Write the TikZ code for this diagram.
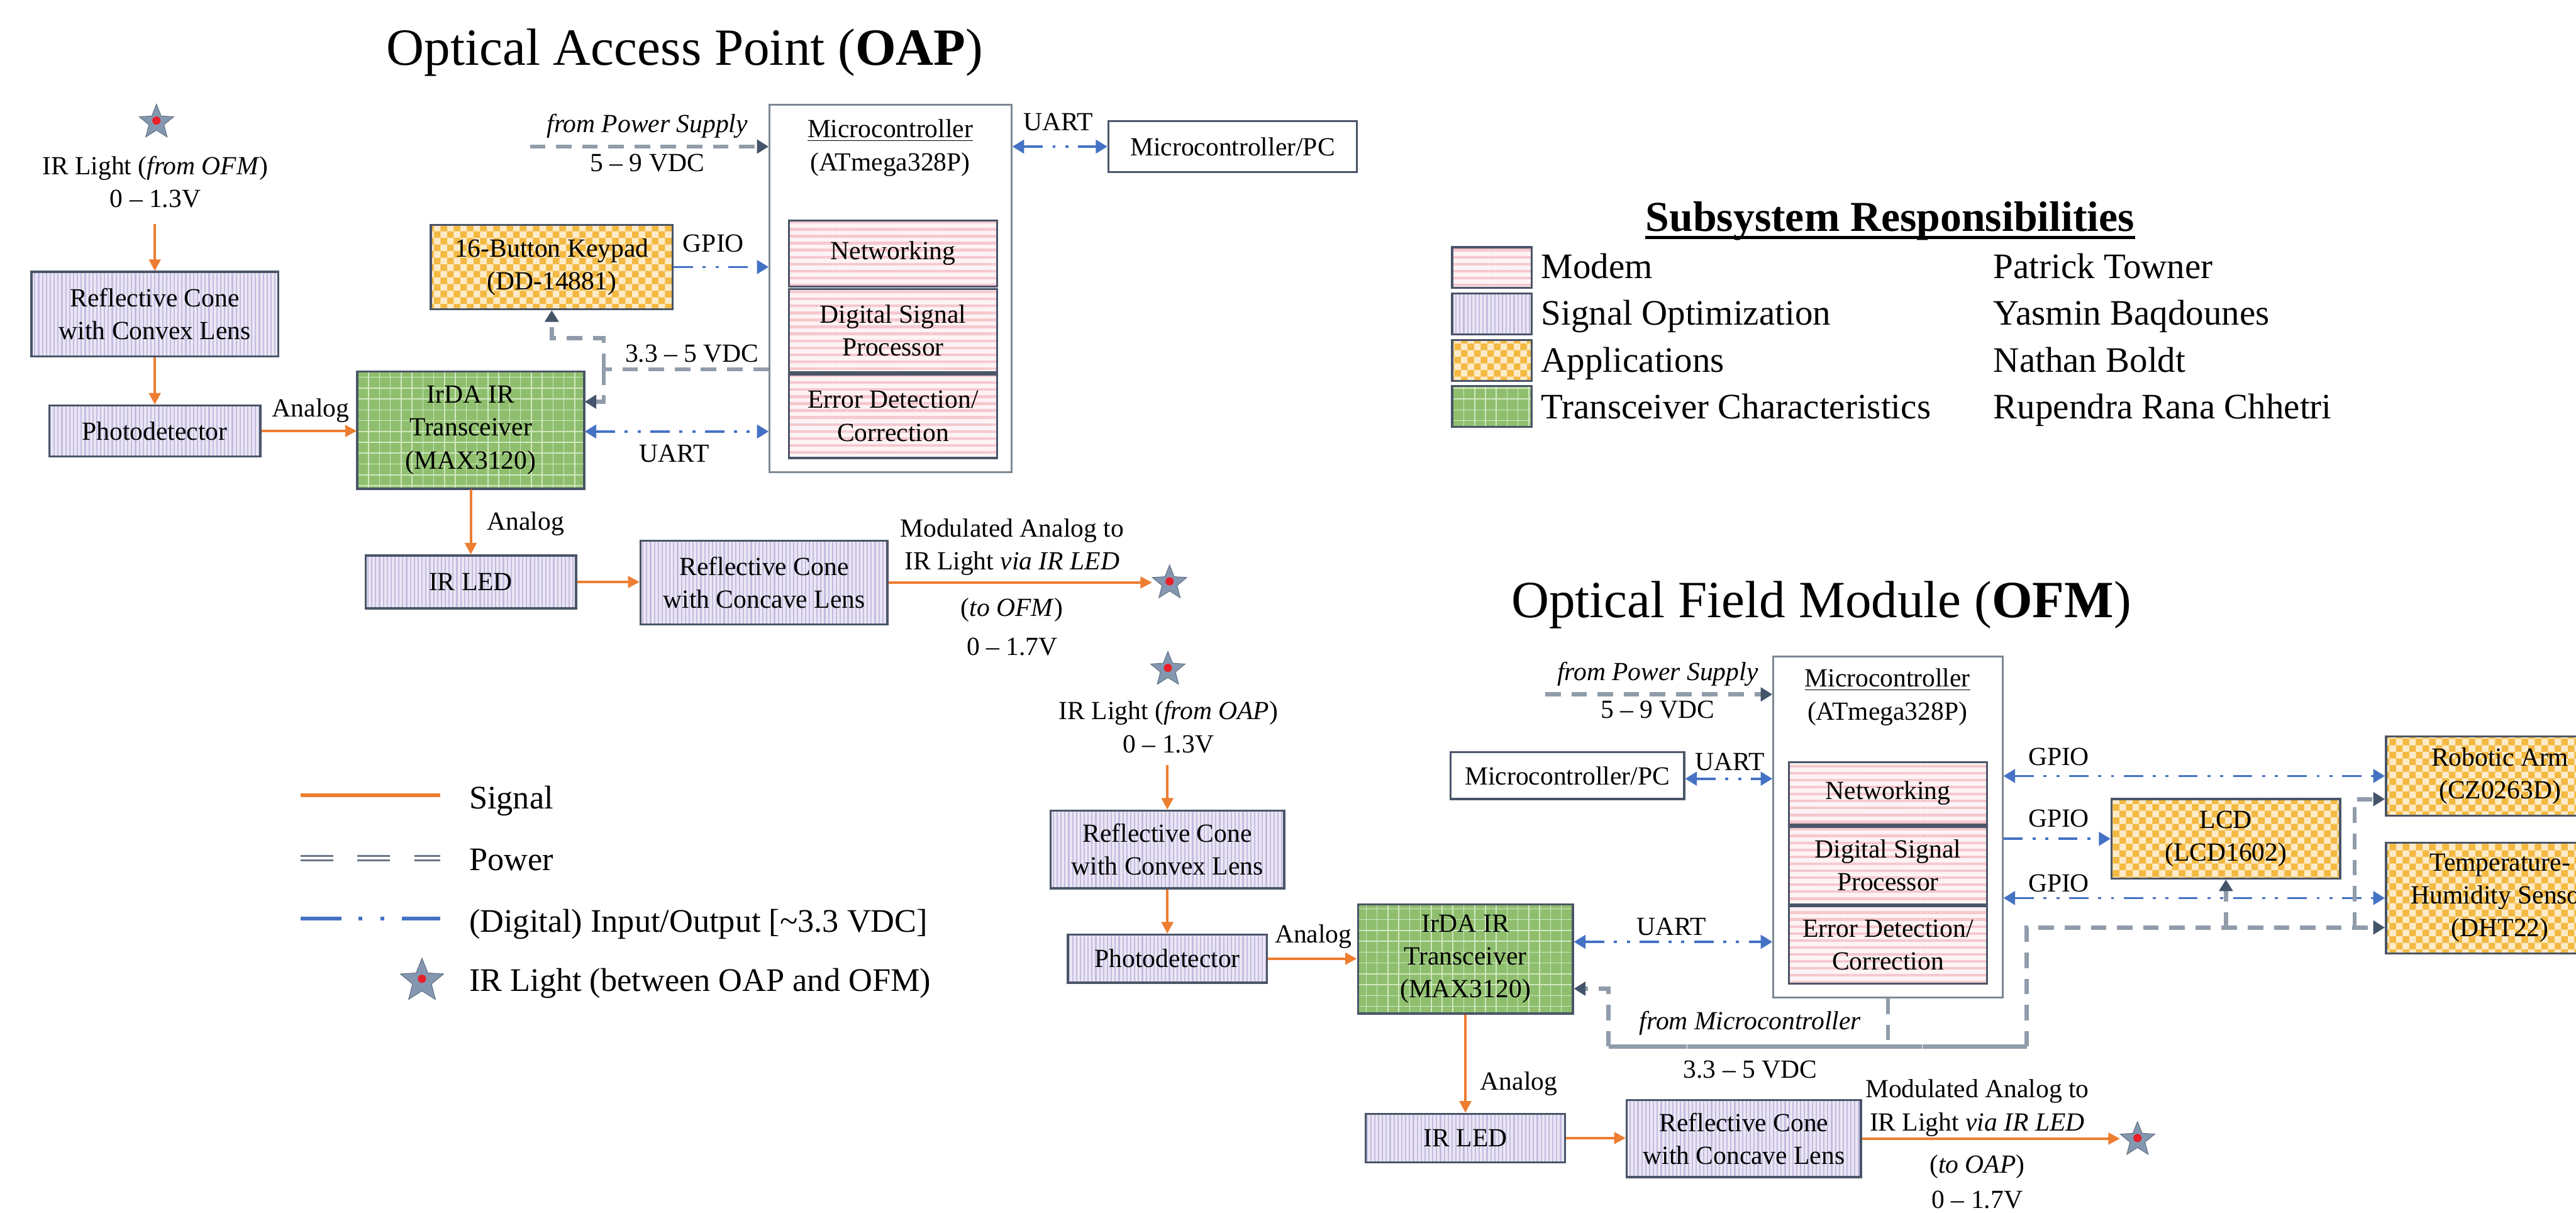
\documentclass[tikz,border=0pt]{standalone}
\usepackage{fontspec}
\setmainfont{Liberation Serif}
\usetikzlibrary{arrows.meta,positioning,shapes.geometric,patterns,patterns.meta}

\definecolor{edge}{HTML}{4A5568}
\definecolor{mcuedge}{HTML}{7D8894}
\definecolor{sigc}{HTML}{ED7D31}
\definecolor{dioc}{HTML}{4472C4}
\definecolor{pwrc}{HTML}{909CAA}
\definecolor{pwrhead}{HTML}{44546A}
\definecolor{lavbg}{HTML}{EAE6F4}
\definecolor{lavln}{HTML}{C4BBE0}
\definecolor{pinkbg}{HTML}{FDF3F4}
\definecolor{pinkln}{HTML}{F5C8CE}
\definecolor{chkbg}{HTML}{FDEBC8}
\definecolor{chkfg}{HTML}{F4B942}
\definecolor{grnbg}{HTML}{8FBF6E}
\definecolor{grnln}{HTML}{D2E8C3}
\definecolor{starc}{HTML}{8497B0}
\definecolor{starred}{HTML}{E8202A}

\newcommand{\blockfont}{\fontsize{13.5}{17}\selectfont}
\newcommand{\titlefont}{\fontsize{27}{32}\selectfont}
\newcommand{\keyfont}{\fontsize{17}{20}\selectfont}
\newcommand{\headfont}{\fontsize{22}{26}\selectfont}
\newcommand{\rolefont}{\fontsize{18.5}{22}\selectfont}

\pgfdeclarepatternformonly{checks}{\pgfpointorigin}{\pgfqpoint{6.8pt}{6.8pt}}{\pgfqpoint{6.8pt}{6.8pt}}{%
  \pgfpathrectangle{\pgfpointorigin}{\pgfqpoint{3.4pt}{3.4pt}}%
  \pgfpathrectangle{\pgfqpoint{3.4pt}{3.4pt}}{\pgfqpoint{3.4pt}{3.4pt}}%
  \pgfusepath{fill}%
}

\begin{document}
\begin{tikzpicture}[
  box/.style={draw=edge, line width=1.1pt, align=center, inner sep=2pt, font=\blockfont},
  modem/.style={box, preaction={fill=pinkbg}, pattern={Lines[angle=0, distance=3.6pt, line width=1.4pt]}, pattern color=pinkln},
  sigopt/.style={box, preaction={fill=lavbg}, pattern={Lines[angle=90, distance=2pt, line width=0.7pt]}, pattern color=lavln},
  apps/.style={box, preaction={fill=chkbg}, pattern=checks, pattern color=chkfg},
  trx/.style={box, preaction={fill=grnbg}, pattern={Hatch[angle=0, distance=5.6pt, line width=0.5pt]}, pattern color=grnln},
  plain/.style={box, fill=white},
  mcu/.style={draw=mcuedge, line width=1pt, fill=white},
  lbl/.style={align=center, inner sep=1pt, font=\blockfont},
  sig/.style={draw=sigc, line width=1.3pt, -{Triangle[length=6pt, width=6pt]}},
  dio/.style={draw=dioc, line width=1.2pt, dash pattern=on 10pt off 5pt on 1.6pt off 5pt on 1.6pt off 5pt,
    -{Triangle[length=6pt, width=7pt]}},
  dio2/.style={dio, {Triangle[length=6pt, width=7pt]}-{Triangle[length=6pt, width=7pt]}},
  pwr/.style={draw=pwrc, line width=2.2pt, dash pattern=on 8pt off 5.5pt},
  pwrtip/.style={-{Triangle[length=6pt, width=7pt, color=pwrhead]}},
  irstar/.style={star, star points=5, star point ratio=2.3, inner sep=0pt, minimum size=0.66cm,
    fill=starc, draw=starc!70!black, line width=0.3pt,
    path picture={\fill[starred] (path picture bounding box.center) circle (0.075cm);}}
]
  \clip (0,0) rectangle (46.76,-22);

  \node[font=\titlefont] (oapTitle) at (12.43,-0.95) {Optical Access Point (\textbf{OAP})};
  \node[irstar] (oapStar) at (2.84,-2.22) {};
  \node[lbl] (oapIn) at (2.82,-3.30) {IR Light (\textit{from OFM})\\0 -- 1.3V};
  \coordinate (oapInTop) at (2.81,-4.06);
  \node[sigopt, minimum width=4.48cm, minimum height=1.54cm] (oapCvx) at (2.81,-5.70) {Reflective Cone\\with Convex Lens};
  \node[sigopt, minimum width=3.83cm, minimum height=0.92cm] (oapPd) at (2.81,-7.82) {Photodetector};
  \node[trx, minimum width=4.12cm, minimum height=2.13cm] (oapIrda) at (8.545,-7.805) {IrDA IR\\Transceiver\\(MAX3120)};
  \node[sigopt, minimum width=3.82cm, minimum height=0.96cm] (oapLed) at (8.545,-10.56) {IR LED};
  \node[sigopt, minimum width=4.48cm, minimum height=1.52cm] (oapCcv) at (13.87,-10.57) {Reflective Cone\\with Concave Lens};
  \node[irstar] (oapOut) at (21.23,-10.58) {};
  \node[lbl] (oapOutA) at (18.37,-9.925) {Modulated Analog to\\IR Light \textit{via IR LED}};
  \node[lbl] (oapOutB) at (18.37,-11.375) {(\textit{to OFM})\\[3pt]0 -- 1.7V};
  \node[apps, minimum width=4.39cm, minimum height=1.53cm] (oapKey) at (10.015,-4.845) {16-Button Keypad\\(DD-14881)};
  \node[mcu, minimum width=4.39cm, minimum height=6.67cm] (oapMcu) at (16.165,-5.235) {};
  \node[lbl] (oapMcuTxt) at (16.16,-2.685) {\underline{Microcontroller}\\(ATmega328P)};
  \node[modem, minimum width=3.78cm, minimum height=1.20cm] (oapNet) at (16.21,-4.60) {Networking};
  \node[modem, minimum width=3.78cm, minimum height=1.51cm, below=0pt of oapNet] (oapDsp) {Digital Signal\\Processor};
  \node[modem, minimum width=3.78cm, minimum height=1.52cm, below=0pt of oapDsp] (oapEdc) {Error Detection/\\Correction};
  \node[plain, minimum width=4.51cm, minimum height=0.92cm] (oapPc) at (22.375,-2.66) {Microcontroller/PC};

  \node[lbl] (oapPsTxt) at (11.75,-2.29) {\textit{from Power Supply}};
  \node[lbl] (oapPsV) at (11.75,-2.96) {5 -- 9 VDC};
  \node[lbl] (oapGpio) at (12.95,-4.42) {GPIO};
  \node[lbl] (oapUartPc) at (19.21,-2.21) {UART};
  \node[lbl] (oapUart) at (12.24,-8.23) {UART};
  \node[lbl] (oapLowV) at (12.56,-6.42) {3.3 -- 5 VDC};
  \node[lbl] (oapAn1) at (5.64,-7.45) {Analog};
  \node[lbl] (oapAn2) at (9.54,-9.51) {Analog};

  \coordinate (oapPs) at (9.62,-2.66);
  \coordinate (oapPj) at (10.96,-6.70);

  \draw[sig] (oapInTop) -- (oapCvx.north);
  \draw[sig] (oapCvx.south) -- (oapPd.north);
  \draw[sig] (oapPd.east) -- (oapPd.east -| oapIrda.west);
  \draw[sig] (oapIrda.south) -- (oapLed.north);
  \draw[sig] (oapLed.east) -- (oapLed.east -| oapCcv.west);
  \draw[sig, shorten >=0.12cm] (oapCcv.east) -- (oapCcv.east -| oapOut.west);
  \draw[dio] (oapKey.east) -- (oapKey.east -| oapMcu.west);
  \draw[dio2] (oapMcu.east |- oapPc) -- (oapPc.west);
  \draw[dio2] (oapIrda.east |- 0,-7.83) -- (oapMcu.west |- 0,-7.83);
  \draw[pwr, pwrtip] (oapPs) -- (oapMcu.west |- oapPs);
  \draw[pwr] (oapMcu.west |- oapPj) -- (oapPj);
  \draw[pwr, pwrtip] (oapPj) |- (oapKey.south |- 0,-6.14) -- (oapKey.south);
  \draw[pwr, pwrtip] (oapPj) |- (oapIrda.east |- 0,-7.29);

  \node[font=\titlefont] (ofmTitle) at (33.06,-10.98) {Optical Field Module (\textbf{OFM})};
  \node[irstar] (ofmStar) at (21.20,-12.15) {};
  \node[lbl] (ofmIn) at (21.21,-13.195) {IR Light (\textit{from OAP})\\0 -- 1.3V};
  \coordinate (ofmInTop) at (21.19,-13.88);
  \node[sigopt, minimum width=4.24cm, minimum height=1.41cm] (ofmCvx) at (21.19,-15.415) {Reflective Cone\\with Convex Lens};
  \node[sigopt, minimum width=3.61cm, minimum height=0.87cm] (ofmPd) at (21.19,-17.395) {Photodetector};
  \node[trx, minimum width=3.90cm, minimum height=1.98cm] (ofmIrda) at (26.60,-17.40) {IrDA IR\\Transceiver\\(MAX3120)};
  \node[sigopt, minimum width=3.62cm, minimum height=0.88cm] (ofmLed) at (26.60,-20.65) {IR LED};
  \node[sigopt, minimum width=4.25cm, minimum height=1.40cm] (ofmCcv) at (31.655,-20.66) {Reflective Cone\\with Concave Lens};
  \node[irstar] (ofmOut) at (38.80,-20.68) {};
  \node[lbl] (ofmOutA) at (35.89,-20.105) {Modulated Analog to\\IR Light \textit{via IR LED}};
  \node[lbl] (ofmOutB) at (35.89,-21.445) {(\textit{to OAP})\\[1pt]0 -- 1.7V};
  \node[mcu, minimum width=4.16cm, minimum height=6.19cm] (ofmMcu) at (34.27,-15.005) {};
  \node[lbl] (ofmMcuTxt) at (34.26,-12.65) {\underline{Microcontroller}\\(ATmega328P)};
  \node[modem, minimum width=3.60cm, minimum height=1.13cm] (ofmNet) at (34.27,-14.395) {Networking};
  \node[modem, minimum width=3.60cm, minimum height=1.41cm, below=0pt of ofmNet] (ofmDsp) {Digital Signal\\Processor};
  \node[modem, minimum width=3.60cm, minimum height=1.40cm, below=0pt of ofmDsp] (ofmEdc) {Error Detection/\\Correction};
  \node[plain, minimum width=4.24cm, minimum height=0.85cm] (ofmPc) at (28.45,-14.075) {Microcontroller/PC};
  \node[apps, minimum width=4.15cm, minimum height=1.44cm] (ofmLcd) at (40.405,-15.22) {LCD\\(LCD1602)};
  \node[apps, minimum width=4.14cm, minimum height=1.44cm] (ofmArm) at (45.38,-14.08) {Robotic Arm\\(CZ0263D)};
  \node[apps, minimum width=4.14cm, minimum height=2.01cm] (ofmThs) at (45.38,-16.295) {Temperature-\\Humidity Sensor\\(DHT22)};

  \node[lbl] (ofmPsTxt) at (30.09,-12.23) {\textit{from Power Supply}};
  \node[lbl] (ofmPsV) at (30.09,-12.88) {5 -- 9 VDC};
  \node[lbl] (ofmUartPc) at (31.40,-13.83) {UART};
  \node[lbl] (ofmUart) at (30.34,-16.82) {UART};
  \node[lbl] (ofmGpioA) at (37.37,-13.73) {GPIO};
  \node[lbl] (ofmGpioB) at (37.37,-14.85) {GPIO};
  \node[lbl] (ofmGpioC) at (37.37,-16.03) {GPIO};
  \node[lbl] (ofmFromMcu) at (31.77,-18.57) {\textit{from Microcontroller}};
  \node[lbl] (ofmLowV) at (31.77,-19.41) {3.3 -- 5 VDC};
  \node[lbl] (ofmAn1) at (23.84,-16.99) {Analog};
  \node[lbl] (ofmAn2) at (27.57,-19.67) {Analog};

  \coordinate (ofmPs) at (28.05,-12.60);
  \coordinate (ofmPl) at (29.20,-18.99);
  \coordinate (ofmPr) at (36.79,-18.99);
  \coordinate (ofmPa) at (42.74,-16.83);

  \draw[sig] (ofmInTop) -- (ofmCvx.north);
  \draw[sig] (ofmCvx.south) -- (ofmPd.north);
  \draw[sig] (ofmPd.east) -- (ofmPd.east -| ofmIrda.west);
  \draw[sig] (ofmIrda.south) -- (ofmLed.north);
  \draw[sig] (ofmLed.east) -- (ofmLed.east -| ofmCcv.west);
  \draw[sig, shorten >=0.12cm] (ofmCcv.east) -- (ofmCcv.east -| ofmOut.west);
  \draw[dio2] (ofmPc.east |- 0,-14.13) -- (ofmMcu.west |- 0,-14.13);
  \draw[dio2] (ofmIrda.east |- 0,-17.09) -- (ofmMcu.west |- 0,-17.09);
  \draw[dio2] (ofmMcu.east |- ofmArm) -- (ofmArm.west);
  \draw[dio] (ofmMcu.east |- ofmLcd) -- (ofmLcd.west);
  \draw[dio2] (ofmMcu.east |- ofmThs) -- (ofmThs.west);
  \draw[pwr, pwrtip] (ofmPs) -- (ofmMcu.west |- ofmPs);
  \draw[pwr] (ofmMcu.south) -- (ofmMcu.south |- ofmPl);
  \draw[pwr, pwrtip] (ofmPr) -- (ofmPl) |- (ofmIrda.east |- 0,-17.94);
  \draw[pwr, pwrtip] (ofmPl) -- (ofmPr) |- (ofmThs.west |- ofmPa);
  \draw[pwr, pwrtip] (ofmLcd.south |- ofmPa) -- (ofmLcd.south);
  \draw[pwr, pwrtip] (ofmPa) |- (ofmArm.west |- 0,-14.50);

  \node[font=\bfseries\headfont, inner sep=0pt, anchor=base] (legTitle) at (34.31,-4.20) {Subsystem Responsibilities};
  \draw[line width=1.6pt] ([yshift=-0.11cm]legTitle.base west) -- ([yshift=-0.11cm]legTitle.base east);
  \node[modem, minimum width=1.44cm, minimum height=0.74cm] (swModem) at (27.08,-4.855) {};
  \node[sigopt, minimum width=1.44cm, minimum height=0.74cm] (swSigopt) at (27.08,-5.695) {};
  \node[apps, minimum width=1.44cm, minimum height=0.74cm] (swApps) at (27.08,-6.54) {};
  \node[trx, minimum width=1.44cm, minimum height=0.74cm] (swTrx) at (27.08,-7.375) {};
  \node[font=\rolefont, inner sep=0pt, anchor=base west] (legModem) at (27.97,-5.05) {Modem};
  \node[font=\rolefont, inner sep=0pt, anchor=base west] (legSigopt) at (27.97,-5.90) {Signal Optimization};
  \node[font=\rolefont, inner sep=0pt, anchor=base west] (legApps) at (27.97,-6.75) {Applications};
  \node[font=\rolefont, inner sep=0pt, anchor=base west] (legTrx) at (27.97,-7.60) {Transceiver Characteristics};
  \node[font=\rolefont, inner sep=0pt, anchor=base west] (nameModem) at (36.18,-5.05) {Patrick Towner};
  \node[font=\rolefont, inner sep=0pt, anchor=base west] (nameSigopt) at (36.18,-5.90) {Yasmin Baqdounes};
  \node[font=\rolefont, inner sep=0pt, anchor=base west] (nameApps) at (36.18,-6.75) {Nathan Boldt};
  \node[font=\rolefont, inner sep=0pt, anchor=base west] (nameTrx) at (36.18,-7.60) {Rupendra Rana Chhetri};

  \draw[sigc, line width=2.1pt] (5.46,-14.43) -- (7.99,-14.43);
  \draw[draw=pwrhead!80, line width=1.1pt, double=white, double distance=1.2pt, dash pattern=on 16.8pt off 12.5pt]
    (5.46,-15.57) -- (7.99,-15.57);
  \draw[dioc, line width=2.1pt, dash pattern=on 21pt off 8.8pt on 2pt off 9.4pt on 2pt off 9pt] (5.46,-16.67) -- (7.99,-16.67);
  \node[irstar, minimum size=0.83cm] (legStar) at (7.66,-17.80) {};
  \node[font=\keyfont, inner sep=0pt, anchor=base west] (legSig) at (8.51,-14.68) {Signal};
  \node[font=\keyfont, inner sep=0pt, anchor=base west] (legPwr) at (8.51,-15.79) {Power};
  \node[font=\keyfont, inner sep=0pt, anchor=base west] (legDio) at (8.51,-16.91) {(Digital) Input/Output [\textasciitilde3.3 VDC]};
  \node[font=\keyfont, inner sep=0pt, anchor=base west] (legIr) at (8.51,-17.99) {IR Light (between OAP and OFM)};
\end{tikzpicture}
\end{document}
